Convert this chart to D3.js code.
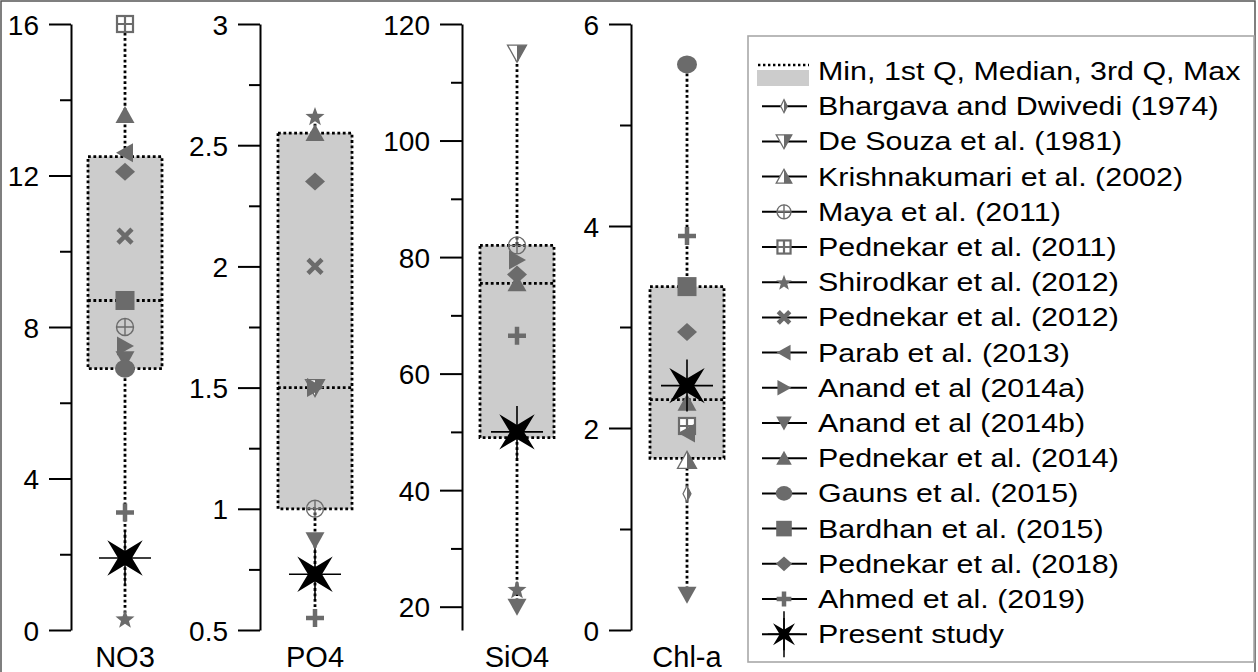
<!DOCTYPE html>
<html><head><meta charset="utf-8">
<script src="https://cdn.jsdelivr.net/npm/d3@7"></script>
<style>
body{margin:0;background:#fff}
svg{display:block}
text{font-family:"Liberation Sans",Arial,Helvetica,sans-serif;fill:#000}
</style>
</head><body>
<svg id="chart" width="1258" height="672"></svg>
<script>
// ---------------- DATA ----------------
const variables = ["NO3", "PO4", "SiO4", "Chl-a"];
const axisDomains = [[0, 16], [0.5, 3], [16, 120], [0, 6]];
const majorTicks = [[0, 4, 8, 12, 16], [0.5, 1, 1.5, 2, 2.5, 3], [20, 40, 60, 80, 100, 120], [0, 2, 4, 6]];
const minorTicks = [[2, 6, 10, 14], [0.75, 1.25, 1.75, 2.25, 2.75], [30, 50, 70, 90, 110], [1, 3, 5]];
const tickLabels = [["0", "4", "8", "12", "16"], ["0.5", "1", "1.5", "2", "2.5", "3"], ["20", "40", "60", "80", "100", "120"], ["0", "2", "4", "6"]];

const boxMin    = [0.3, 0.55, 20, 0.35];
const boxQ1     = [6.9, 1.0, 49, 1.7];
const boxMedian = [8.7, 1.5, 75.5, 2.28];
const boxQ3     = [12.5, 2.55, 82, 3.4];
const boxMax    = [16, 2.6, 115, 5.6];

const boxLegendLabel = "Min, 1st Q, Median, 3rd Q, Max";
const studies = [
  "Bhargava and Dwivedi (1974)", "De Souza et al. (1981)", "Krishnakumari et al. (2002)",
  "Maya et al. (2011)", "Pednekar et al. (2011)", "Shirodkar et al. (2012)",
  "Pednekar et al. (2012)", "Parab et al. (2013)", "Anand et al (2014a)",
  "Anand et al (2014b)", "Pednekar et al. (2014)", "Gauns et al. (2015)",
  "Bardhan et al. (2015)", "Pednekar et al. (2018)", "Ahmed et al. (2019)", "Present study"
];
const studyMarkers = [
  "halfNarrowDiamond", "halfTriDown", "halfTriUp", "circlePlus", "squarePlus", "star5",
  "cross", "triLeft", "triRight", "triDown", "triUp", "circle", "square", "diamond", "plus", "present"
];
// values per study (same order as studies), null = not reported
const no3Values  = [null, null, null, 8.0, 16, 0.3, 10.4, 12.6, 7.5, 7.15, 13.6, 6.9, 8.7, 12.1, 3.1, 1.9];
const po4Values  = [null, 1.5, null, 1.0, null, 2.62, 2.0, null, 1.5, 0.87, 2.55, null, null, 2.35, 0.55, 0.73];
const sio4Values = [null, 115, null, 82, null, 23, null, null, 79.5, 20, 75.5, null, null, 77, 66.5, 50];
const chlaValues = [1.35, null, 1.68, null, 2.02, null, null, 1.95, null, 0.35, 2.25, 5.6, 3.4, 2.95, 3.9, 2.42];
const valuesByVariable = [no3Values, po4Values, sio4Values, chlaValues];

// ---------------- LAYOUT ----------------
const W = 1258, H = 672;
const axisX = [71, 260, 462, 631];
const boxCenterX = [125, 315, 517, 687];
const boxHalfW = 37;
const plotTop = 24, plotBottom = 630;
const gray = "#6b6b6b";
const boxFill = "#cccccc";
const fontFamily = '"Liberation Sans", Arial, sans-serif';

const svg = d3.select("#chart");

// outer frame
svg.append("path")
  .attr("d", `M1,${H} V1 H1255 V${H}`)
  .attr("fill", "none").attr("stroke", "#555").attr("stroke-width", 1.5);

// ---------------- MARKERS ----------------
function polygon(pts) { return "M" + pts.map(p => p.join(",")).join("L") + "Z"; }

function drawMarker(g, type, k) {
  k = k || 1;
  const s = v => v * k;
  switch (type) {
    case "triUp":
      g.append("path").attr("d", polygon([[0, s(-9)], [s(9.5), s(8)], [s(-9.5), s(8)]])).attr("fill", gray);
      break;
    case "triDown":
      g.append("path").attr("d", polygon([[0, s(9)], [s(9.5), s(-8)], [s(-9.5), s(-8)]])).attr("fill", gray);
      break;
    case "triLeft":
      g.append("path").attr("d", polygon([[s(-9), 0], [s(8), s(-9.5)], [s(8), s(9.5)]])).attr("fill", gray);
      break;
    case "triRight":
      g.append("path").attr("d", polygon([[s(9), 0], [s(-8), s(-9.5)], [s(-8), s(9.5)]])).attr("fill", gray);
      break;
    case "halfTriUp":
      g.append("path").attr("d", polygon([[0, s(-9)], [0, s(8)], [s(-9.5), s(8)]])).attr("fill", "#fff");
      g.append("path").attr("d", polygon([[0, s(-9)], [s(9.5), s(8)], [0, s(8)]])).attr("fill", gray);
      g.append("path").attr("d", polygon([[0, s(-9)], [s(9.5), s(8)], [s(-9.5), s(8)]])).attr("fill", "none").attr("stroke", gray).attr("stroke-width", 1.3);
      break;
    case "halfTriDown":
      g.append("path").attr("d", polygon([[0, s(9)], [0, s(-8)], [s(-9.5), s(-8)]])).attr("fill", "#fff");
      g.append("path").attr("d", polygon([[0, s(9)], [s(9.5), s(-8)], [0, s(-8)]])).attr("fill", gray);
      g.append("path").attr("d", polygon([[0, s(9)], [s(9.5), s(-8)], [s(-9.5), s(-8)]])).attr("fill", "none").attr("stroke", gray).attr("stroke-width", 1.3);
      break;
    case "halfNarrowDiamond":
      g.append("path").attr("d", polygon([[0, s(-8)], [s(-4), 0], [0, s(8)]])).attr("fill", "#fff");
      g.append("path").attr("d", polygon([[0, s(-8)], [s(4), 0], [0, s(8)]])).attr("fill", gray);
      g.append("path").attr("d", polygon([[0, s(-8)], [s(4), 0], [0, s(8)], [s(-4), 0]])).attr("fill", "none").attr("stroke", gray).attr("stroke-width", 1.2);
      break;
    case "diamond":
      g.append("path").attr("d", polygon([[0, s(-9)], [s(10), 0], [0, s(9)], [s(-10), 0]])).attr("fill", gray);
      break;
    case "square":
      g.append("rect").attr("x", s(-9.5)).attr("y", s(-9.5)).attr("width", s(19)).attr("height", s(19)).attr("fill", gray);
      break;
    case "circle":
      g.append("ellipse").attr("rx", s(10)).attr("ry", s(9)).attr("fill", gray);
      break;
    case "circlePlus":
      g.append("circle").attr("r", s(8.5)).attr("fill", "none").attr("stroke", gray).attr("stroke-width", 1.4);
      g.append("path").attr("d", `M${s(-8.5)},0H${s(8.5)}M0,${s(-8.5)}V${s(8.5)}`).attr("stroke", gray).attr("stroke-width", 1.4);
      break;
    case "squarePlus":
      g.append("rect").attr("x", s(-8)).attr("y", s(-8)).attr("width", s(16)).attr("height", s(16)).attr("fill", "#fff").attr("stroke", gray).attr("stroke-width", 2.2);
      g.append("path").attr("d", `M${s(-8)},0H${s(8)}M0,${s(-8)}V${s(8)}`).attr("stroke", gray).attr("stroke-width", 2.2);
      break;
    case "star5": {
      const pts = [];
      for (let i = 0; i < 10; i++) {
        const r = i % 2 === 0 ? s(10) : s(4.2);
        const a = -Math.PI / 2 + i * Math.PI / 5;
        pts.push([r * Math.cos(a), r * Math.sin(a) + s(1)]);
      }
      g.append("path").attr("d", polygon(pts)).attr("fill", gray);
      break;
    }
    case "cross":
      g.append("path").attr("d", `M${s(-7)},${s(-7)}L${s(7)},${s(7)}M${s(-7)},${s(7)}L${s(7)},${s(-7)}`).attr("stroke", gray).attr("stroke-width", 4.5);
      break;
    case "plus":
      g.append("path").attr("d", `M${s(-9)},0H${s(9)}M0,${s(-9)}V${s(9)}`).attr("stroke", gray).attr("stroke-width", 4.5);
      break;
    case "present": {
      const pts = [];
      for (let i = 0; i < 8; i++) {
        const r = i % 2 === 0 ? s(25) : s(7);
        const a = -3 * Math.PI / 4 + i * Math.PI / 4;
        pts.push([r * Math.cos(a), r * Math.sin(a)]);
      }
      g.append("path").attr("d", polygon(pts)).attr("fill", "#000");
      g.append("path").attr("d", `M${s(-26)},0H${s(26)}M0,${s(-26)}V${s(26)}`).attr("stroke", "#000").attr("stroke-width", 1.6);
      break;
    }
  }
}

// ---------------- PANELS ----------------
variables.forEach((v, i) => {
  const y = d3.scaleLinear().domain(axisDomains[i]).range([plotBottom, plotTop]);
  const panel = svg.append("g");

  // major axis
  const axMajor = panel.append("g").attr("transform", `translate(${axisX[i]},0)`)
    .call(d3.axisLeft(y).tickValues(majorTicks[i]).tickSize(22).tickSizeOuter(0).tickPadding(10)
      .tickFormat((d, j) => tickLabels[i][j]));
  axMajor.selectAll("path.domain").attr("stroke", "#000").attr("stroke-width", 2);
  axMajor.selectAll(".tick line").attr("stroke", "#000").attr("stroke-width", 2);
  axMajor.selectAll(".tick text").attr("font-size", 28).attr("font-family", fontFamily).attr("fill", "#000").attr("dy", "0.36em");
  axMajor.attr("font-size", null).attr("font-family", null);

  // minor ticks
  const axMinor = panel.append("g").attr("transform", `translate(${axisX[i]},0)`)
    .call(d3.axisLeft(y).tickValues(minorTicks[i]).tickSize(11).tickSizeOuter(0).tickFormat(""));
  axMinor.select("path.domain").remove();
  axMinor.selectAll(".tick line").attr("stroke", "#000").attr("stroke-width", 2);

  const cx = boxCenterX[i];
  // whisker (min to max)
  panel.append("line")
    .attr("x1", cx).attr("x2", cx).attr("y1", y(boxMin[i])).attr("y2", y(boxMax[i]))
    .attr("stroke", "#000").attr("stroke-width", 2.8).attr("stroke-dasharray", "2.8,2.6");
  // box q1-q3
  panel.append("rect")
    .attr("x", cx - boxHalfW).attr("width", 2 * boxHalfW)
    .attr("y", y(boxQ3[i])).attr("height", y(boxQ1[i]) - y(boxQ3[i]))
    .attr("fill", boxFill).attr("stroke", "#000").attr("stroke-width", 2.8).attr("stroke-dasharray", "2.8,2.6");
  // median
  panel.append("line")
    .attr("x1", cx - boxHalfW).attr("x2", cx + boxHalfW).attr("y1", y(boxMedian[i])).attr("y2", y(boxMedian[i]))
    .attr("stroke", "#000").attr("stroke-width", 2.8).attr("stroke-dasharray", "2.8,2.6");

  // study markers
  valuesByVariable[i].forEach((val, j) => {
    if (val === null) return;
    const g = panel.append("g").attr("transform", `translate(${cx},${y(val)})`);
    drawMarker(g, studyMarkers[j], 1);
  });

  // variable label
  panel.append("text").attr("x", cx).attr("y", 667).attr("text-anchor", "middle")
    .attr("font-size", 29).text(v);
});

// ---------------- LEGEND ----------------
const legendX = 748, legendY = 36, legendW = 506, legendH = 626;
const legend = svg.append("g");
legend.append("rect").attr("x", legendX).attr("y", legendY).attr("width", legendW).attr("height", legendH)
  .attr("fill", "#fff").attr("stroke", "#a8a8a8").attr("stroke-width", 1.6);

const rowStep = 35.2, firstBaseline = 80, textX = 818, symX = 784;
const legendFont = 26, legendStretch = 1.17;
const legendLabels = [boxLegendLabel].concat(studies);

legendLabels.forEach((lab, r) => {
  const base = firstBaseline + r * rowStep;
  const cy = base - 9;
  if (r === 0) {
    legend.append("rect").attr("x", 757).attr("y", cy - 1).attr("width", 52).attr("height", 16).attr("fill", boxFill);
    legend.append("line").attr("x1", 758).attr("x2", 809).attr("y1", cy - 6).attr("y2", cy - 6)
      .attr("stroke", "#000").attr("stroke-width", 2.4).attr("stroke-dasharray", "2.4,2.6");
  } else {
    legend.append("line").attr("x1", 762).attr("x2", 807).attr("y1", cy).attr("y2", cy)
      .attr("stroke", "#000").attr("stroke-width", 2);
    const g = legend.append("g").attr("transform", `translate(${symX},${cy})`);
    const type = studyMarkers[r - 1];
    drawMarker(g, type, type === "present" ? 0.62 : 0.82);
    if (type === "present") {
      g.append("path").attr("d", "M0,-23V23").attr("stroke", "#000").attr("stroke-width", 1.5);
    }
  }
  legend.append("text")
    .attr("transform", `translate(${textX},${base}) scale(${legendStretch},1)`)
    .attr("font-size", legendFont).text(lab);
});
</script>
</body></html>
